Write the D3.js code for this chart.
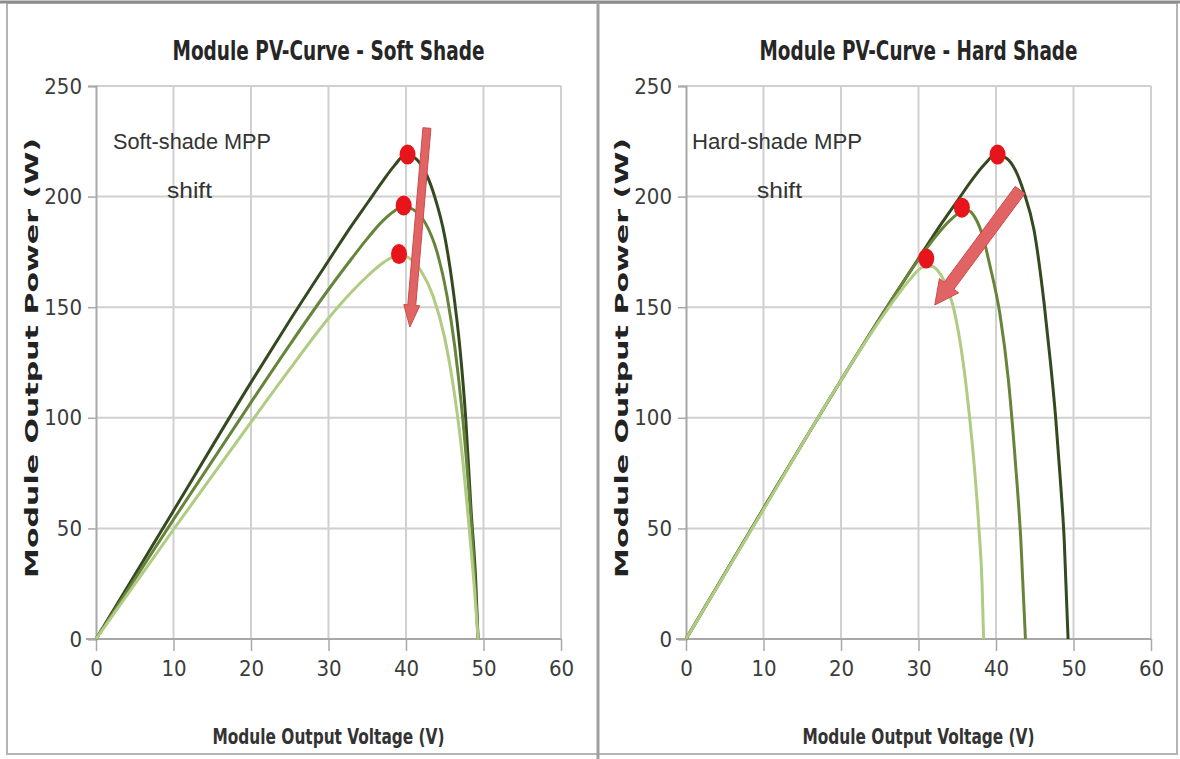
<!DOCTYPE html>
<html>
<head>
<meta charset="utf-8">
<script src="https://cdn.jsdelivr.net/npm/d3@7"></script>
<style>
  html, body { margin: 0; padding: 0; background: #fff; }
  svg { display: block; }
  .tick-label { font-family: "Liberation Sans Narrow", "DejaVu Sans Condensed", sans-serif; font-size: 22px; fill: #3c3c3c; }
  .title { font-family: "Liberation Sans Narrow", "DejaVu Sans Condensed", sans-serif; font-weight: bold; font-size: 26px; fill: #262626; }
  .x-title { font-family: "Liberation Sans Narrow", "DejaVu Sans Condensed", sans-serif; font-weight: bold; font-size: 22px; fill: #333; }
  .y-title { font-family: "DejaVu Sans", sans-serif; font-weight: bold; font-size: 18px; fill: #222; }
  .note { font-family: "Liberation Sans", Arial, sans-serif; font-size: 22px; fill: #333; }
</style>
</head>
<body>
<svg id="chart" width="1180" height="759"></svg>
<script>
// axis ticks
const voltTicks = [0, 10, 20, 30, 40, 50, 60];
const powerTicks = [0, 50, 100, 150, 200, 250];

// soft shade curves [voltage, power]
const softFull = [[0,0],[10,58],[20,116],[25,144],[30,171],[33,187],[35,197],[37,207],[38.5,214],[40,219],[41.3,217],[42.5,211],[43.7,200],[45,182],[46,160],[47,130],[47.7,100],[48.4,58],[49,26],[49.3,0]];
const softMid = [[0,0],[10,54],[20,107],[25,133],[30,158],[33,172],[35,181],[37,189],[38.5,193.5],[39.8,195.5],[41,194],[42.5,188],[44,175],[45.3,155],[46.3,132],[47.2,104],[48,72],[48.7,38],[49.3,0]];
const softLow = [[0,0],[10,49.5],[20,98],[25,122],[30,145],[33,157],[35,164],[37,170],[38.5,173],[39.5,173.5],[40.5,172],[42,166],[43.5,155],[45,136],[46.2,112],[47.2,85],[48.1,52],[48.8,24],[49.3,0]];

// hard shade curves [voltage, power]
const hardFull = [[0,0],[10,59],[20,117],[25,145],[30,172],[33,188],[35,198],[37,208],[38.5,214.5],[40,219],[41.3,217.5],[42.5,212],[43.6,202],[44.9,185],[46.2,152],[47,126],[47.7,100],[48.3,72],[48.8,45],[49.3,0]];
const hardMid = [[0,0],[10,59],[20,117],[25,145],[30,171.5],[32,181],[34,189],[35.5,193],[36.5,193.5],[37.3,190.5],[38.3,182],[39.2,169],[40.5,147],[41.6,117],[42.5,80],[43.2,45],[43.8,0]];
const hardLow = [[0,0],[10,58.5],[20,117],[25,144],[27,154],[29,163],[30.5,168],[31.7,168.5],[32.5,166.5],[33.3,162],[34.5,150],[35.8,124],[36.6,100],[37.2,78],[37.8,50],[38.2,25],[38.4,0]];

// maximum power points
const softMpp = [[40.2,219],[39.7,196],[39.1,174]];
const hardMpp = [[40.2,219],[35.6,195],[31.0,172]];

// shift arrows [from, to]
const softArrow = [[42.7,231],[40.5,141]];
const hardArrow = [[43.1,203],[32.1,151]];

const curveColors = ["#34491f", "#66853a", "#b0cb82"];

const svg = d3.select("#chart");

// outer frame
svg.append("rect").attr("x", 7).attr("y", 3).attr("width", 1170).attr("height", 751)
    .attr("fill", "none").attr("stroke", "#b4b4b4").attr("stroke-width", 2);
svg.append("line").attr("x1", 0).attr("x2", 1180).attr("y1", 2).attr("y2", 2)
    .attr("stroke", "#8c8c8c").attr("stroke-width", 3);
svg.append("line").attr("x1", 598).attr("x2", 598).attr("y1", 2).attr("y2", 759)
    .attr("stroke", "#a0a0a0").attr("stroke-width", 3);

function drawPanel(opts) {
    const g = svg.append("g");
    const x = d3.scaleLinear().domain([0, 60]).range([opts.left, opts.left + 465]);
    const y = d3.scaleLinear().domain([0, 250]).range([639, 86]);

    // grid
    g.append("g").selectAll("line").data(voltTicks.slice(1)).join("line")
        .attr("x1", d => x(d)).attr("x2", d => x(d))
        .attr("y1", y(0)).attr("y2", y(250))
        .attr("stroke", "#d0d0d0").attr("stroke-width", 2);
    g.append("g").selectAll("line").data(powerTicks.slice(1)).join("line")
        .attr("x1", x(0)).attr("x2", x(60))
        .attr("y1", d => y(d)).attr("y2", d => y(d))
        .attr("stroke", "#d0d0d0").attr("stroke-width", 2);

    // axes
    const xAxis = g.append("g").attr("transform", `translate(0,${y(0)})`)
        .call(d3.axisBottom(x).tickValues(voltTicks).tickSize(12).tickPadding(9));
    const yAxis = g.append("g").attr("transform", `translate(${x(0)},0)`)
        .call(d3.axisLeft(y).tickValues(powerTicks).tickSize(8).tickPadding(6));
    [xAxis, yAxis].forEach(a => {
        a.select(".domain").attr("stroke", "#a8a8a8").attr("stroke-width", 2);
        a.selectAll(".tick line").attr("stroke", "#a8a8a8").attr("stroke-width", 1.5);
        a.selectAll(".tick text").attr("class", "tick-label").attr("fill", null);
    });
    xAxis.select(".domain").attr("d", `M${x(0) - 10},0H${x(60)}`);

    // curves
    const line = d3.line().x(d => x(d[0])).y(d => y(d[1])).curve(d3.curveMonotoneX);
    g.append("g").selectAll("path").data(opts.curves).join("path")
        .attr("d", line)
        .attr("fill", "none")
        .attr("stroke", (d, i) => curveColors[i])
        .attr("stroke-width", 3);

    // arrow
    const [a0, a1] = opts.arrow.map(p => [x(p[0]), y(p[1])]);
    const dx = a1[0] - a0[0], dy = a1[1] - a0[1];
    const len = Math.hypot(dx, dy);
    const ux = dx / len, uy = dy / len, nx = -uy, ny = ux;
    const sw = opts.shaft / 2, hw = opts.head / 2, hl = opts.headLen;
    const bx = a1[0] - ux * hl, by = a1[1] - uy * hl;
    const pts = [
        [a0[0] + nx * sw, a0[1] + ny * sw],
        [bx + nx * sw, by + ny * sw],
        [bx + nx * hw, by + ny * hw],
        a1,
        [bx - nx * hw, by - ny * hw],
        [bx - nx * sw, by - ny * sw],
        [a0[0] - nx * sw, a0[1] - ny * sw]
    ];
    g.append("polygon")
        .attr("points", pts.map(p => p.join(",")).join(" "))
        .attr("fill", "#e06464")
        .attr("stroke", "#cf4a4a")
        .attr("stroke-width", 1);

    // MPP dots
    g.append("g").selectAll("ellipse").data(opts.mpp).join("ellipse")
        .attr("cx", d => x(d[0])).attr("cy", d => y(d[1]))
        .attr("rx", 8).attr("ry", 10)
        .attr("fill", "#e8141c");

    // titles
    const cx = (x(0) + x(60)) / 2;
    g.append("text").attr("class", "title")
        .attr("x", cx).attr("y", 60).attr("text-anchor", "middle")
        .attr("textLength", opts.titleLen).attr("lengthAdjust", "spacingAndGlyphs")
        .text(opts.title);
    g.append("text").attr("class", "x-title")
        .attr("x", cx).attr("y", 744).attr("text-anchor", "middle")
        .attr("textLength", 232).attr("lengthAdjust", "spacingAndGlyphs")
        .text("Module Output Voltage (V)");
    g.append("text").attr("class", "y-title")
        .attr("transform", `translate(${x(0) - 58},${358}) rotate(-90)`)
        .attr("text-anchor", "middle")
        .attr("textLength", 440).attr("lengthAdjust", "spacingAndGlyphs")
        .text("Module Output Power (W)");

    // annotation
    g.append("text").attr("class", "note")
        .attr("x", opts.noteX).attr("y", 149)
        .attr("textLength", opts.noteLen).attr("lengthAdjust", "spacingAndGlyphs")
        .text(opts.note);
    g.append("text").attr("class", "note")
        .attr("x", opts.shiftX).attr("y", 198)
        .attr("textLength", 45).attr("lengthAdjust", "spacingAndGlyphs")
        .text("shift");
}

drawPanel({
    left: 96,
    curves: [softFull, softMid, softLow],
    mpp: softMpp,
    arrow: softArrow, shaft: 8, head: 16, headLen: 22,
    title: "Module PV-Curve - Soft Shade", titleLen: 312,
    note: "Soft-shade MPP", noteX: 113, noteLen: 158, shiftX: 167
});
drawPanel({
    left: 686,
    curves: [hardFull, hardMid, hardLow],
    mpp: hardMpp,
    arrow: hardArrow, shaft: 12, head: 24, headLen: 24,
    title: "Module PV-Curve - Hard Shade", titleLen: 318,
    note: "Hard-shade MPP", noteX: 692, noteLen: 170, shiftX: 757
});
</script>
</body>
</html>
